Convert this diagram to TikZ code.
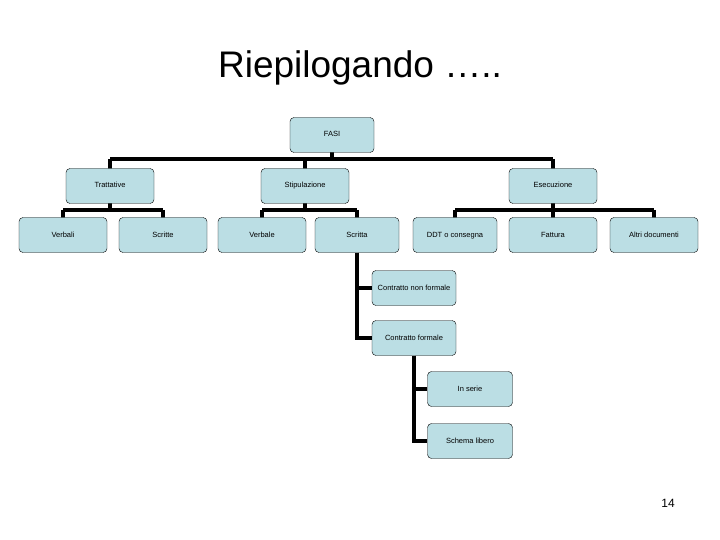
\documentclass[tikz,border=0pt]{standalone}
\usepackage{fontspec}
\setmainfont{Liberation Sans}
\begin{document}
\begin{tikzpicture}[x=1pt,y=-1pt,
  bx/.style={draw=black,fill={rgb,255:red,187;green,222;blue,228},rounded corners=4pt,minimum width=88pt,minimum height=35pt,font=\fontsize{7.5}{8}\selectfont,inner sep=1pt,text height=5.5pt,text depth=1.5pt},
  ln/.style={line width=3.4pt}]
\useasboundingbox (0,0) rectangle (720,540);
\node[font=\fontsize{37}{40}\selectfont] (title) at (360,68) {Riepilogando …..};
\node[font=\fontsize{12}{14}\selectfont] (pg) at (668,503) {14};
\draw[ln] (332,135) -- (332,159);
\draw[ln] (110,159) -- (553,159);
\draw[ln] (110,159) -- (110,186);
\draw[ln] (305,159) -- (305,186);
\draw[ln] (553,159) -- (553,186);
\draw[ln] (110,186) -- (110,210);
\draw[ln] (63,210) -- (163,210);
\draw[ln] (63,210) -- (63,235);
\draw[ln] (163,210) -- (163,235);
\draw[ln] (305,186) -- (305,210);
\draw[ln] (262,210) -- (357,210);
\draw[ln] (262,210) -- (262,235);
\draw[ln] (357,210) -- (357,235);
\draw[ln] (553,186) -- (553,210);
\draw[ln] (455,210) -- (654,210);
\draw[ln] (455,210) -- (455,235);
\draw[ln] (553,210) -- (553,235);
\draw[ln] (654,210) -- (654,235);
\node[bx,minimum width=84pt] (fasi) at (332,135) {FASI};
\node[bx] (tr) at (110,186) {Trattative};
\node[bx] (st) at (305,186) {Stipulazione};
\node[bx] (es) at (553,186) {Esecuzione};
\node[bx] (v1) at (63,235) {Verbali};
\node[bx] (s1) at (163,235) {Scritte};
\node[bx] (v2) at (262,235) {Verbale};
\node[bx,minimum width=84pt] (s2) at (357,235) {Scritta};
\node[bx,minimum width=84pt] (ddt) at (455,235) {DDT o consegna};
\node[bx] (fa) at (553,235) {Fattura};
\node[bx] (al) at (654,235) {Altri documenti};
\node[bx,minimum width=84pt] (cnf) at (414,288) {Contratto non formale};
\node[bx,minimum width=84pt] (cf) at (414,338) {Contratto formale};
\node[bx,minimum width=85pt] (is) at (470,389) {In serie};
\node[bx,minimum width=85pt] (sl) at (470,441) {Schema libero};
\draw[ln] (s2.south) |- (cnf.west);
\draw[ln] (s2.south) |- (cf.west);
\draw[ln] (cf.south) |- (is.west);
\draw[ln] (cf.south) |- (sl.west);
\end{tikzpicture}
\end{document}
